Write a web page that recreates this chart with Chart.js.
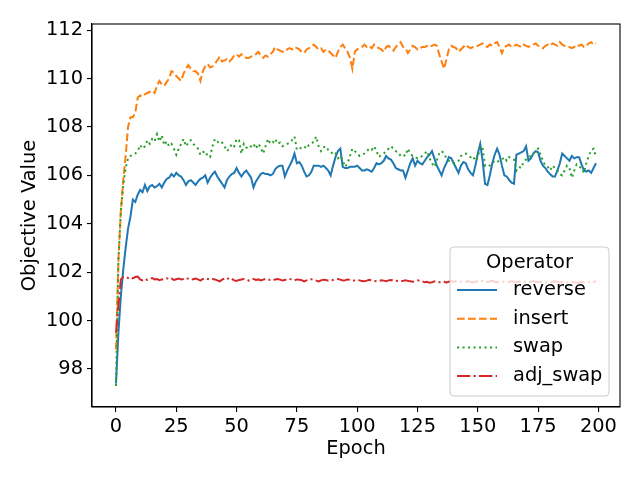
<!DOCTYPE html>
<html>
<head>
<meta charset="utf-8">
<script src="https://cdn.jsdelivr.net/npm/chart.js@4"></script>
<style>
  html, body { margin: 0; padding: 0; background: #fff; }
  #wrap { width: 640px; height: 480px; }
</style>
</head>
<body>
<div id="wrap"><canvas id="chart" width="640" height="480"></canvas></div>
<script>
// =======================================================
// DADOS
// =======================================================
const epochs = Array.from({ length: 200 }, (_, i) => i);
const xTicks = [0, 25, 50, 75, 100, 125, 150, 175, 200];
const yTicks = [98, 100, 102, 104, 106, 108, 110, 112];
const operators = ['reverse', 'insert', 'swap', 'adj_swap'];

const reverse = [
  97.4, 99.5, 101.0, 102.1, 103.0, 103.8, 104.3, 105.0, 104.9, 105.2,
  105.4, 105.3, 105.6, 105.35, 105.55, 105.6, 105.5, 105.55, 105.65, 105.5,
  105.7, 105.85, 105.9, 106.05, 105.95, 106.1, 106.0, 105.95, 105.8, 105.6,
  105.75, 105.8, 105.7, 105.6, 105.75, 105.85, 105.9, 106.0, 105.7, 105.9,
  106.05, 106.15, 105.95, 105.8, 105.65, 105.5, 105.8, 105.95, 106.05, 106.1,
  106.3, 106.1, 105.95, 106.1, 106.2, 106.05, 105.9, 105.5, 105.75, 105.9,
  106.05, 106.1, 106.05, 106.05, 106.0, 106.05, 106.25, 106.35, 106.4, 106.4,
  105.95, 106.2, 106.4, 106.6, 106.9, 106.5, 106.55, 106.4, 106.15, 105.95,
  106.0, 106.15, 106.4, 106.4, 106.4, 106.35, 106.4, 106.3, 106.2, 106.0,
  106.4, 106.75, 107.0, 107.1, 106.35, 106.3, 106.3, 106.35, 106.35, 106.35,
  106.4, 106.3, 106.2, 106.2, 106.25, 106.2, 106.15, 106.3, 106.5, 106.45,
  106.5, 106.6, 106.8, 106.7, 106.65, 106.5, 106.3, 106.25, 106.2, 106.2,
  105.9, 106.2, 106.5, 106.7, 106.4, 106.6, 106.5, 106.45, 106.6, 106.75,
  106.85, 107.0, 106.7, 106.4, 106.2, 106.0, 106.3, 106.5, 106.75, 106.7,
  106.5, 106.3, 106.1, 106.4, 106.55, 106.5, 106.25, 106.1, 106.0, 106.4,
  106.9, 107.3, 106.6, 105.65, 105.6, 106.0, 106.5, 106.85, 107.1, 106.85,
  106.4, 106.0, 105.95, 105.8, 105.7, 105.65, 106.85, 106.9, 106.95, 107.0,
  107.2, 106.6, 106.7, 106.9, 107.0, 106.95, 106.6, 106.4, 106.3, 106.15,
  106.05, 105.95, 105.95, 106.2, 106.5, 106.9, 106.8, 106.7, 106.6, 106.8,
  106.7, 106.75, 106.75, 106.45, 106.2, 106.15, 106.2, 106.1, 106.3, 106.5
];

const insert = [
  98.8, 102.5, 104.5, 105.8, 106.8, 108.0, 108.4, 108.4, 108.6, 109.2,
  109.3, 109.25, 109.35, 109.4, 109.45, 109.5, 109.4, 109.7, 109.9, 109.75,
  109.7, 109.85, 110.0, 110.3, 110.25, 110.1, 110.0, 109.9, 110.2, 110.4,
  110.55, 110.4, 110.3, 110.3, 110.2, 109.9, 110.3, 110.5, 110.6, 110.45,
  110.5, 110.6, 110.75, 110.9, 110.7, 110.75, 110.8, 110.7, 110.8, 110.95,
  111.0, 110.9, 111.0, 110.95, 110.85, 110.85, 110.9, 110.95, 111.0, 111.1,
  110.95, 110.85, 110.95, 110.9, 111.0, 111.1, 111.3, 111.2, 111.15, 111.1,
  111.1, 111.2, 111.25, 111.2, 111.3, 111.25, 111.2, 111.1, 111.05, 111.2,
  111.25, 111.3, 111.4, 111.3, 111.2, 111.25, 111.1, 111.2, 111.15, 111.05,
  110.95, 110.85, 111.1, 111.3, 111.4, 111.25, 111.1, 110.85, 110.4, 111.1,
  111.2, 111.25, 111.3, 111.4, 111.3, 111.35, 111.25, 111.4, 111.3, 111.25,
  111.2, 111.1, 111.3, 111.35, 111.25, 111.15, 111.3, 111.4, 111.5, 111.3,
  111.25, 111.05, 111.2, 111.35, 111.3, 111.2, 111.25, 111.3, 111.3, 111.35,
  111.3, 111.35, 111.4, 111.35, 111.0, 110.7, 110.4, 110.8, 111.2, 111.35,
  111.3, 111.25, 111.1, 111.2, 111.3, 111.4, 111.3, 111.25, 111.3, 111.3,
  111.35, 111.4, 111.45, 111.35, 111.3, 111.4, 111.35, 111.45, 111.5, 111.3,
  111.05, 111.3, 111.35, 111.4, 111.3, 111.35, 111.4, 111.35, 111.3, 111.4,
  111.35, 111.3, 111.35, 111.4, 111.45, 111.35, 111.3, 111.25, 111.35, 111.4,
  111.35, 111.45, 111.4, 111.35, 111.5, 111.4, 111.35, 111.3, 111.3, 111.25,
  111.3, 111.4, 111.35, 111.4, 111.3, 111.35, 111.45, 111.5, 111.4, 111.45
];

const swap = [
  97.3, 102.5, 104.5, 105.6, 106.3, 106.7, 106.8, 106.85, 106.9, 107.0,
  107.25, 107.1, 107.2, 107.45, 107.3, 107.5, 107.4, 107.7, 107.4, 107.65,
  107.25, 107.4, 107.2, 107.3, 107.1, 106.85, 107.1, 107.3, 107.5, 107.2,
  107.35, 107.45, 107.3, 107.2, 107.1, 106.85, 106.95, 107.0, 106.8, 106.75,
  107.2, 107.5, 107.4, 107.3, 107.35, 107.2, 107.0, 107.1, 107.3, 107.2,
  107.5, 107.45, 106.9, 107.3, 107.15, 107.1, 107.2, 107.3, 107.1, 107.3,
  107.15, 106.9, 107.2, 107.5, 107.3, 107.35, 107.5, 107.3, 107.35, 107.2,
  107.25, 107.3, 107.35, 107.45, 107.6, 107.05, 107.1, 107.15, 107.2, 107.1,
  107.25, 107.3, 107.4, 107.6, 107.2, 107.0, 107.15, 107.2, 107.05, 107.0,
  106.85, 106.9, 106.7, 106.8, 106.6, 106.35, 106.5, 106.8, 107.1, 107.0,
  106.9, 106.8, 106.85, 106.9, 107.0, 107.1, 107.05, 107.2, 107.0, 106.76,
  106.85, 106.9, 107.0, 107.1, 107.2, 107.1, 107.0, 106.95, 106.8, 106.85,
  106.8, 107.1, 106.9, 106.8, 106.75, 106.7, 106.75, 106.8, 106.9, 107.0,
  106.7, 106.5, 106.35, 106.6, 106.9, 107.0, 106.9, 106.7, 106.6, 106.55,
  106.5, 106.55, 106.6, 106.8, 106.85, 106.9, 106.8, 106.75, 106.8, 106.6,
  106.75, 107.2, 107.1, 106.4, 106.45, 106.4, 106.5, 106.6, 106.55, 106.6,
  106.65, 106.75, 106.6, 106.75, 106.7, 106.65, 106.2, 106.35, 106.3, 106.55,
  106.65, 106.75, 106.8, 106.9, 107.0, 107.1, 106.85, 106.6, 106.4, 106.35,
  106.2, 106.4, 106.3, 106.2, 106.05, 106.0, 106.2, 106.4, 106.3, 105.9,
  106.2, 106.45, 106.35, 106.3, 106.1, 106.5, 106.8, 107.04, 107.1, 106.75
];

const adjSwap = [
  99.5, 100.6, 101.7, 101.8, 101.78, 101.76, 101.8, 101.74, 101.8, 101.82,
  101.7, 101.66, 101.72, 101.68, 101.73, 101.76, 101.7, 101.72, 101.67, 101.7,
  101.72, 101.75, 101.7, 101.73, 101.68, 101.71, 101.74, 101.7, 101.72, 101.77,
  101.72, 101.68, 101.71, 101.74, 101.7, 101.65, 101.72, 101.75, 101.72, 101.69,
  101.72, 101.7, 101.66, 101.62, 101.69, 101.74, 101.7, 101.77, 101.72, 101.66,
  101.64, 101.68, 101.7, 101.72, 101.69, 101.65, 101.7, 101.72, 101.68, 101.7,
  101.66, 101.69, 101.72, 101.7, 101.67, 101.65, 101.7, 101.72, 101.69, 101.66,
  101.68, 101.7, 101.72, 101.68, 101.66, 101.7, 101.69, 101.67, 101.62, 101.66,
  101.69, 101.71, 101.68, 101.65, 101.62, 101.66, 101.69, 101.68, 101.65, 101.66,
  101.68, 101.7, 101.72, 101.69, 101.66, 101.67, 101.7, 101.68, 101.64, 101.66,
  101.68, 101.66, 101.63, 101.62, 101.65, 101.68, 101.66, 101.64, 101.62, 101.64,
  101.66, 101.65, 101.63, 101.66, 101.68, 101.66, 101.63, 101.65, 101.62, 101.64,
  101.66, 101.64, 101.62, 101.6, 101.63, 101.66, 101.64, 101.62, 101.58, 101.6,
  101.56, 101.58, 101.62, 101.6, 101.58, 101.61, 101.6, 101.57, 101.6, 101.62,
  101.6, 101.62, 101.64, 101.6, 101.58, 101.6, 101.63, 101.6, 101.57, 101.6,
  101.62, 101.6, 101.64, 101.62, 101.59, 101.62, 101.64, 101.6, 101.58, 101.6,
  101.62, 101.6, 101.58, 101.6, 101.63, 101.6, 101.58, 101.6, 101.62, 101.6,
  101.6, 101.58, 101.6, 101.63, 101.6, 101.58, 101.6, 101.62, 101.58, 101.56,
  101.58, 101.6, 101.62, 101.6, 101.57, 101.6, 101.62, 101.59, 101.57, 101.6,
  101.58, 101.55, 101.57, 101.6, 101.58, 101.62, 101.6, 101.63, 101.6, 101.63
];

// =======================================================
// ESTILO
// =======================================================
const FONT = "'DejaVu Sans', sans-serif";
const FONT_SIZE = 19.4;
const seriesStyles = [
  { color: '#1f77b4', dash: [] },
  { color: '#ff7f0e', dash: [7.7, 3.3] },
  { color: '#2ca02c', dash: [2.1, 3.4] },
  { color: '#d62728', dash: [13.3, 3.3, 2.1, 3.3] }
];

function toPoints(values) {
  return values.map((v, i) => ({ x: epochs[i], y: v }));
}

// moldura em volta da área do gráfico (como os spines do matplotlib)
const framePlugin = {
  id: 'frame',
  afterDatasetsDraw(chart) {
    const { ctx, chartArea: a } = chart;
    ctx.save();
    ctx.strokeStyle = '#000';
    ctx.lineWidth = 1.1;
    ctx.strokeRect(a.left, a.top, a.right - a.left, a.bottom - a.top);
    ctx.restore();
  }
};

// legenda no canto inferior direito, dentro da área
const boxLegendPlugin = {
  id: 'boxLegend',
  afterDraw(chart) {
    const { ctx, chartArea: a } = chart;
    const w = 159, h = 149;
    const x = a.right - 11 - w, y = a.bottom - 11 - h;
    ctx.save();
    ctx.beginPath();
    ctx.roundRect(x, y, w, h, 4);
    ctx.fillStyle = 'rgba(255,255,255,0.8)';
    ctx.fill();
    ctx.strokeStyle = '#cccccc';
    ctx.lineWidth = 1;
    ctx.stroke();

    ctx.fillStyle = '#000';
    ctx.font = FONT_SIZE + 'px ' + FONT;
    ctx.textBaseline = 'middle';
    ctx.textAlign = 'center';
    ctx.fillText('Operator', x + w / 2, y + 16);

    ctx.textAlign = 'left';
    chart.data.datasets.forEach((ds, i) => {
      const ry = y + 43 + i * 28.7;
      ctx.beginPath();
      ctx.setLineDash(ds.borderDash || []);
      ctx.strokeStyle = ds.borderColor;
      ctx.lineWidth = ds.borderWidth;
      ctx.moveTo(x + 7, ry);
      ctx.lineTo(x + 47, ry);
      ctx.stroke();
      ctx.setLineDash([]);
      ctx.fillStyle = '#000';
      ctx.fillText(ds.label, x + 63, ry);
    });
    ctx.restore();
  }
};

const allSeries = [reverse, insert, swap, adjSwap];

new Chart(document.getElementById('chart'), {
  type: 'line',
  data: {
    datasets: allSeries.map((values, i) => ({
      label: operators[i],
      data: toPoints(values),
      borderColor: seriesStyles[i].color,
      backgroundColor: seriesStyles[i].color,
      borderDash: seriesStyles[i].dash,
      borderWidth: 2,
      pointRadius: 0,
      tension: 0,
      fill: false,
      order: allSeries.length - i
    }))
  },
  options: {
    responsive: false,
    animation: false,
    devicePixelRatio: 1,
    layout: { padding: { top: 24, right: 20, left: 0, bottom: 0 } },
    plugins: {
      legend: { display: false },
      tooltip: { enabled: false }
    },
    scales: {
      x: {
        type: 'linear',
        min: -9.95,
        max: 208.95,
        afterBuildTicks: (scale) => { scale.ticks = xTicks.map(v => ({ value: v })); },
        afterFit: (scale) => { scale.height = 73; },
        grid: { display: true, drawOnChartArea: false, drawTicks: true, tickLength: 5, color: '#000', lineWidth: 1.1 },
        border: { display: true, color: '#000', width: 1.1 },
        ticks: { color: '#000', font: { family: FONT, size: FONT_SIZE }, padding: 3, maxRotation: 0, autoSkip: false },
        title: { display: true, text: 'Epoch', color: '#000', font: { family: FONT, size: FONT_SIZE }, padding: { top: 0, bottom: 19 } }
      },
      y: {
        type: 'linear',
        min: 96.43,
        max: 112.25,
        afterBuildTicks: (scale) => { scale.ticks = yTicks.map(v => ({ value: v })); },
        afterFit: (scale) => { scale.width = 92; },
        grid: { display: true, drawOnChartArea: false, drawTicks: true, tickLength: 5, color: '#000', lineWidth: 1.1 },
        border: { display: true, color: '#000', width: 1.1 },
        ticks: { color: '#000', font: { family: FONT, size: FONT_SIZE }, padding: 4, autoSkip: false },
        title: { display: true, text: 'Objective Value', color: '#000', font: { family: FONT, size: FONT_SIZE }, padding: { top: 18, bottom: 0 } }
      }
    }
  },
  plugins: [framePlugin, boxLegendPlugin]
});
</script>
</body>
</html>
